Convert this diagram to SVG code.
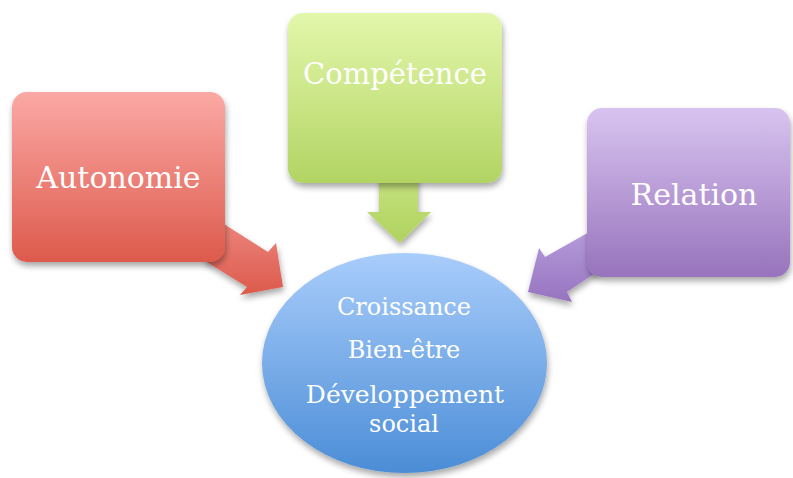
<svg xmlns="http://www.w3.org/2000/svg" width="793" height="478" viewBox="0 0 793 478">
  <defs>
    <linearGradient id="gRed" x1="0" y1="0" x2="0" y2="1">
      <stop offset="0" stop-color="#fba9a5"/>
      <stop offset="1" stop-color="#dd5a4c"/>
    </linearGradient>
    <linearGradient id="gGreen" x1="0" y1="0" x2="0" y2="1">
      <stop offset="0" stop-color="#e3f7ab"/>
      <stop offset="1" stop-color="#b2d463"/>
    </linearGradient>
    <linearGradient id="gPurple" x1="0" y1="0" x2="0" y2="1">
      <stop offset="0" stop-color="#d8c4f0"/>
      <stop offset="1" stop-color="#9773bc"/>
    </linearGradient>
    <linearGradient id="gBlue" x1="0" y1="0" x2="0" y2="1">
      <stop offset="0" stop-color="#a9cdfb"/>
      <stop offset="1" stop-color="#4b8dd6"/>
    </linearGradient>
    <linearGradient id="aRed" x1="0" y1="0" x2="0" y2="1">
      <stop offset="0" stop-color="#ef8a83"/>
      <stop offset="1" stop-color="#dc5a4c"/>
    </linearGradient>
    <linearGradient id="aGreen" x1="0" y1="0" x2="0" y2="1">
      <stop offset="0" stop-color="#c6e27f"/>
      <stop offset="1" stop-color="#b0d25f"/>
    </linearGradient>
    <linearGradient id="aPurple" x1="0" y1="0" x2="0" y2="1">
      <stop offset="0" stop-color="#b89ddc"/>
      <stop offset="1" stop-color="#9674bf"/>
    </linearGradient>
    <filter id="shadow" x="-20%" y="-20%" width="140%" height="140%">
      <feGaussianBlur in="SourceAlpha" stdDeviation="3"/>
      <feOffset dx="1" dy="4" result="blur"/>
      <feComponentTransfer><feFuncA type="linear" slope="0.35"/></feComponentTransfer>
      <feMerge><feMergeNode/><feMergeNode in="SourceGraphic"/></feMerge>
    </filter>
  </defs>
  <style>
    .lbl { font-family: "DejaVu Serif", "Liberation Serif", serif; fill: #ffffff; text-anchor: middle; }
    .big { font-size: 30px; }
    .mid { font-size: 24px; }
  </style>

  <rect width="793" height="478" fill="#ffffff"/>

  <!-- block arrows pointing at the central ellipse -->
  <g id="connectors" filter="url(#shadow)">
    <polygon points="205,212 268,252 276,243 283,287 240,295 247,287 205,261" fill="url(#aRed)"/>
    <polygon points="379,175 418,175 418,212 431,212 400,243 367,212 379,212" fill="url(#aGreen)"/>
    <polygon points="600,226 545,257 539,248 528,292 572,302 567,292 600,270" fill="url(#aPurple)"/>
  </g>

  <g id="autonomie">
    <rect x="12" y="92" width="213" height="170" rx="15" fill="url(#gRed)" filter="url(#shadow)"/>
    <text class="lbl big" x="118.5" y="188">Autonomie</text>
  </g>

  <g id="competence">
    <rect x="288" y="13" width="214" height="170" rx="15" fill="url(#gGreen)" filter="url(#shadow)"/>
    <text class="lbl big" x="395" y="84" style="font-size:29px">Compétence</text>
  </g>

  <g id="relation">
    <rect x="587" y="108" width="203" height="169" rx="15" fill="url(#gPurple)" filter="url(#shadow)"/>
    <text class="lbl big" x="694" y="205">Relation</text>
  </g>

  <g id="centre">
    <ellipse cx="404.5" cy="363" rx="142.5" ry="110" fill="url(#gBlue)" filter="url(#shadow)"/>
    <text class="lbl mid" x="404" y="315">Croissance</text>
    <text class="lbl mid" x="404" y="358">Bien-être</text>
    <text class="lbl mid" x="405" y="403" style="font-size:25px">Développement</text>
    <text class="lbl mid" x="404" y="432">social</text>
  </g>
</svg>
